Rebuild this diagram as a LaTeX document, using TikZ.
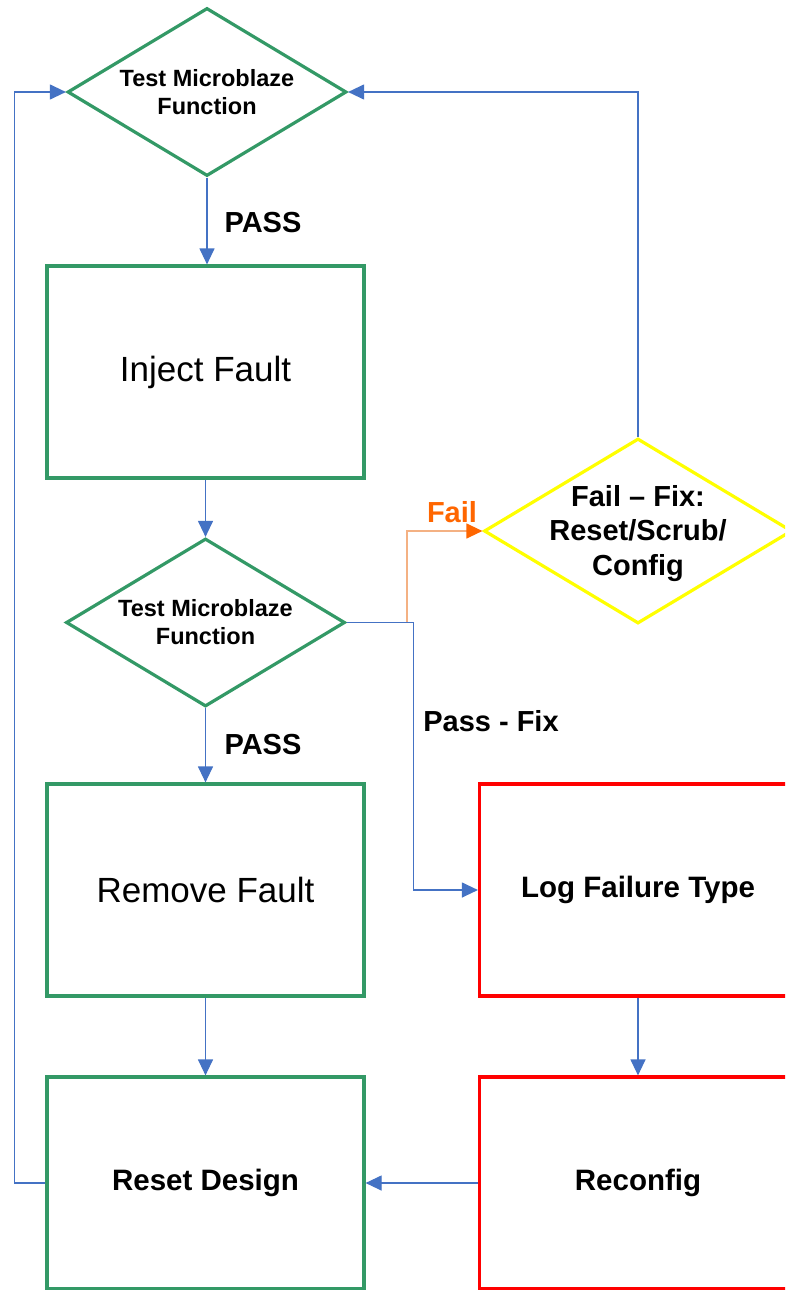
\documentclass[tikz,border=0pt]{standalone}
\usepackage{fontspec}
\setmainfont{Liberation Sans}
\usetikzlibrary{shapes.geometric,arrows.meta}
\definecolor{fgreen}{HTML}{339966}
\definecolor{cblue}{HTML}{4472C4}
\definecolor{forange}{HTML}{FF6600}
\definecolor{lorange}{HTML}{F4B183}
\definecolor{fyellow}{HTML}{FFFF00}
\begin{document}
\begin{tikzpicture}[x=1pt,y=-1pt,
  box/.style={draw=fgreen, line width=3.2pt, minimum width=317pt, minimum height=212pt, inner sep=0pt, align=center},
  redbox/.style={box, draw=red},
  dia/.style={diamond, draw=fgreen, line width=3.2pt, minimum width=279pt, minimum height=168pt, inner sep=0pt},
  bigtxt/.style={font=\fontsize{35}{42}\selectfont},
  boldtxt/.style={font=\fontsize{29.5}{35}\selectfont\bfseries},
  diatxt/.style={font=\fontsize{23.5}{28}\selectfont\bfseries, align=center},
  conn/.style={draw=cblue, line width=1.2pt, -{Triangle[length=16pt,width=15pt,fill=cblue]}},
  oconn/.style={draw=lorange, line width=1.2pt, -{Triangle[length=16pt,width=15pt,color=forange,fill=forange]}},
  lbl/.style={font=\fontsize{29}{34}\selectfont\bfseries}
]
\useasboundingbox (0,0) rectangle (785,1290);
\clip (0,0) rectangle (785,1290);
\fill[white] (0,0) rectangle (785,1290);

% nodes
\node[dia, label={[diatxt]center:{Test Microblaze\\Function}}] (d1) at (207,92) {};
\node[box, bigtxt] (inject) at (205.5,372) {Inject Fault};
\node[dia, label={[diatxt]center:{Test Microblaze\\Function}}] (d2) at (205.5,622.5) {};
\node[box, bigtxt] (remove) at (205.5,890) {Remove Fault};
\node[box, boldtxt] (reset) at (205.5,1183) {Reset Design};
\node[dia, draw=fyellow, minimum width=308pt, minimum height=185pt,
      label={[font=\fontsize{29}{34.5}\selectfont\bfseries, align=center, yshift=-2.5pt]center:{Fail -- Fix:\\Reset/Scrub/\\Config}}] (fail) at (638,531) {};
\node[redbox, boldtxt] (log) at (638,890) {Log Failure Type};
\node[redbox, boldtxt] (reconfig) at (638,1183) {Reconfig};

% labels
\node[lbl] (lpass1) at (263,223) {PASS};
\node[lbl] (lpass2) at (263,745) {PASS};
\node[lbl] (lpassfix) at (491,721) {Pass - Fix};
\node[lbl, text=forange] (lfail) at (452,512) {Fail};

% connectors
\draw[conn] (d1.south) -- (inject.north -| d1.south);
\draw[conn] (inject.south) -- (d2.north);
\draw[conn] (d2.south) -- (remove.north);
\draw[conn] (remove.south) -- (reset.north);
\draw[conn] (log.south) -- (reconfig.north);
\draw[conn] (reconfig.west) -- (reset.east);
\draw[conn] (reset.west) -- ++(-31,0) |- (d1.west);
\draw[conn] (fail.north) |- (d1.east);
\coordinate (split) at (407,622.5);
\draw[oconn] (split) |- (fail.west);
\draw[conn] (d2.east) -- ++(67,0) |- (log.west);
\end{tikzpicture}
\end{document}
